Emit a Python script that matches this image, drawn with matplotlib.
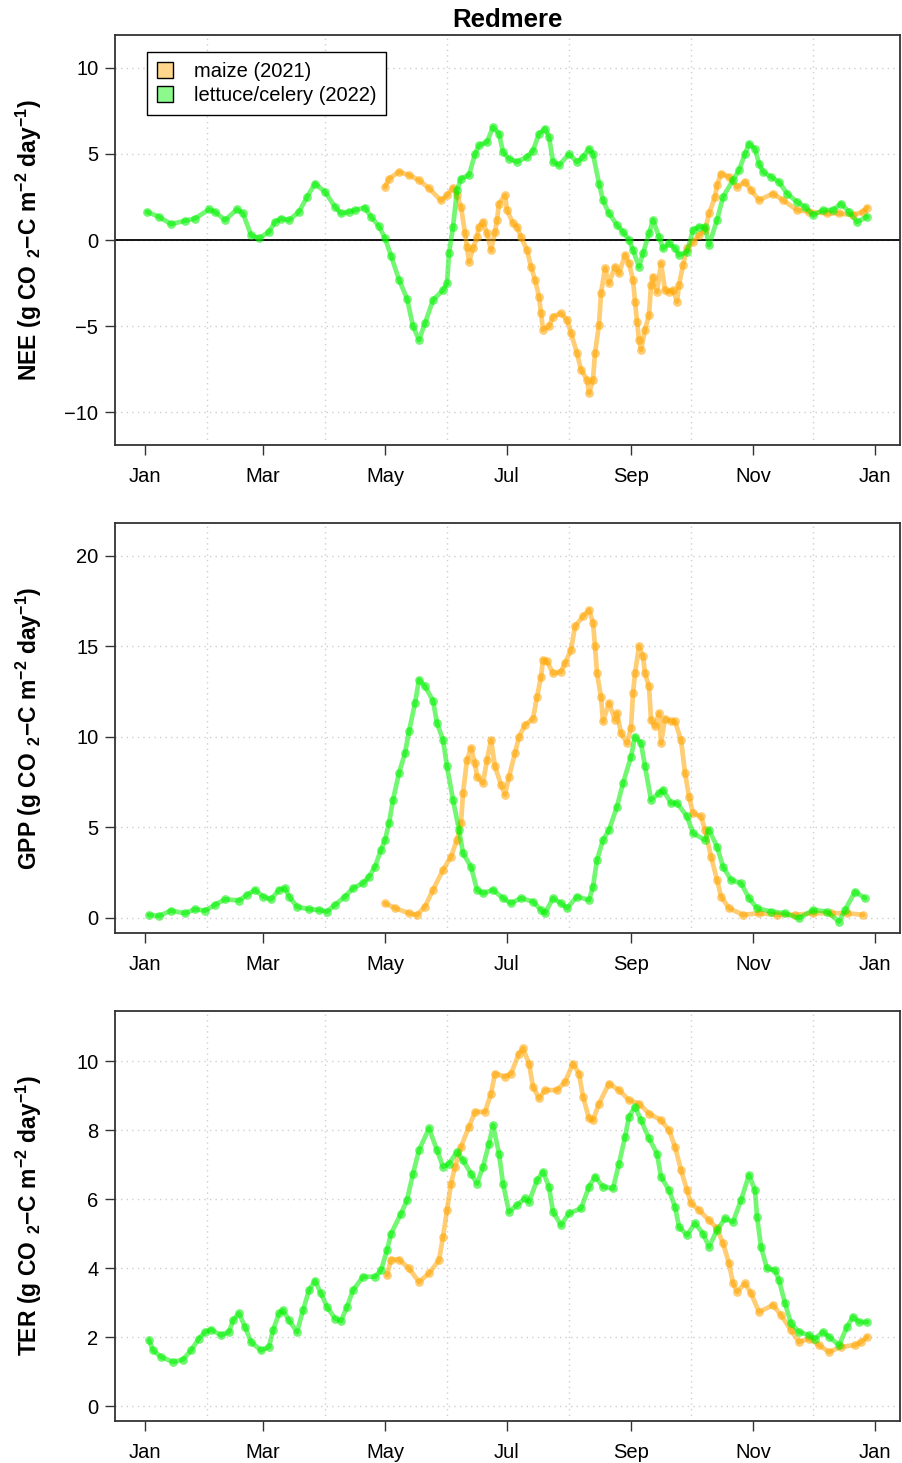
import numpy as np
import matplotlib.pyplot as plt
from matplotlib.patches import Patch

plt.rcParams["font.family"] = ["Liberation Sans", "DejaVu Sans"]
plt.rcParams["mathtext.fontset"] = "custom"
plt.rcParams["mathtext.rm"] = "Liberation Sans"
plt.rcParams["mathtext.bf"] = "Liberation Sans:bold"

# day of year (0 = 1 Jan) and daily flux values, g CO2-C m-2 day-1
nee_lettuce_day = [1, 7, 13, 20, 25, 32, 35, 40, 46, 49, 53, 57, 62, 65, 68, 72, 77, 81, 85, 90,
                   95, 98, 102, 105, 110, 113, 117, 120, 123, 127, 131, 134, 137, 140, 144, 149, 151, 152, 154, 156,
                   158, 162, 165, 167, 171, 174, 177, 179, 182, 186, 191, 194, 197, 200, 202, 204, 207, 212, 216, 219,
                   222, 224, 227, 229, 232, 236, 239, 242, 244, 247, 249, 252, 254, 257, 259, 262, 265, 267, 271, 274,
                   277, 280, 282, 286, 289, 294, 297, 300, 302, 305, 307, 309, 313, 317, 321, 326, 330, 334, 339, 344,
                   348, 352, 356, 361]
nee_lettuce = [1.64, 1.35, 0.93, 1.12, 1.25, 1.78, 1.64, 1.16, 1.78, 1.55, 0.29, 0.1, 0.48, 1.06, 1.25, 1.16, 1.64, 2.5, 3.28, 2.8,
               1.93, 1.55, 1.64, 1.74, 1.89, 1.35, 0.8, 0.1, -0.9, -2.3, -3.4, -5.0, -5.8, -4.83, -3.48, -2.9, -2.5, -0.77, 0.77, 2.9,
               3.57, 3.77, 5.0, 5.5, 5.7, 6.56, 6.18, 5.1, 4.73, 4.54, 4.83, 5.2, 6.18, 6.47, 5.99, 4.54, 4.35, 5.0, 4.54, 4.83,
               5.3, 5.0, 3.28, 2.3, 1.55, 0.87, 0.48, 0.0, -0.58, -1.55, -0.77, 0.39, 1.16, 0.19, -0.48, -0.19, -0.48, -0.87, -0.68, 0.58,
               0.77, 0.77, -0.29, 1.16, 2.5, 3.48, 4.06, 5.0, 5.6, 5.3, 4.44, 3.96, 3.67, 3.38, 2.7, 2.22, 1.93, 1.45, 1.74, 1.74,
               2.12, 1.64, 1.06, 1.35]

nee_maize_day = [120, 122, 127, 132, 137, 142, 148, 151, 154, 156, 158, 160, 161, 162, 164, 166, 167, 169, 171, 173,
                 175, 176, 177, 180, 181, 184, 186, 188, 191, 193, 195, 197, 198, 199, 202, 204, 208, 211, 213, 216,
                 218, 221, 222, 224, 225, 227, 228, 230, 232, 235, 237, 240, 242, 244, 245, 246, 247, 248, 250, 252,
                 253, 254, 256, 258, 260, 262, 264, 266, 267, 269, 271, 274, 277, 280, 282, 285, 286, 288, 292, 296,
                 300, 303, 307, 314, 319, 326, 332, 341, 347, 354, 359, 361]
nee_maize = [3.09, 3.57, 3.96, 3.77, 3.48, 3.0, 2.3, 2.6, 3.05, 2.6, 1.93, 0.39, -0.39, -1.26, -0.48, 0.19, 0.77, 1.06, 0.39, -0.58,
             0.48, 1.16, 2.12, 2.6, 1.74, 0.97, 0.77, 0.19, -0.58, -1.55, -2.3, -3.28, -4.25, -5.2, -5.0, -4.44, -4.25, -4.63, -5.4, -6.56,
             -7.53, -8.1, -8.88, -8.1, -6.56, -4.92, -3.09, -1.64, -2.5, -1.55, -1.93, -0.87, -1.35, -2.3, -3.57, -4.73, -5.8, -6.37, -5.2, -4.35,
             -2.6, -2.12, -3.0, -1.35, -2.9, -3.0, -2.9, -3.57, -2.6, -1.45, -0.48, -0.1, 0.29, 0.58, 1.55, 2.5, 3.19, 3.86, 3.67, 3.09,
             3.38, 2.9, 2.32, 2.7, 2.32, 1.74, 1.64, 1.55, 1.55, 1.45, 1.64, 1.89]

gpp_lettuce_day = [2, 7, 13, 20, 25, 30, 35, 40, 47, 51, 55, 59, 63, 67, 70, 72, 76, 82, 87, 91,
                   95, 100, 104, 109, 112, 115, 118, 120, 122, 124, 127, 130, 132, 135, 137, 140, 144, 146, 149, 151,
                   154, 157, 159, 163, 166, 169, 174, 179, 183, 188, 194, 198, 200, 204, 208, 211, 216, 222, 224, 226,
                   229, 232, 236, 239, 243, 245, 248, 250, 253, 257, 259, 263, 266, 271, 274, 280, 282, 286, 289, 293,
                   298, 302, 306, 313, 320, 327, 334, 341, 347, 350, 355, 360]
gpp_lettuce = [0.17, 0.11, 0.4, 0.26, 0.48, 0.4, 0.72, 1.03, 0.96, 1.27, 1.55, 1.18, 1.03, 1.55, 1.64, 1.18, 0.62, 0.48, 0.44, 0.35,
               0.72, 1.18, 1.64, 1.92, 2.28, 2.83, 3.76, 4.3, 5.23, 6.52, 8.0, 9.1, 10.3, 11.86, 13.15, 12.78, 12.0, 10.76, 9.83, 8.36,
               6.52, 4.86, 3.57, 2.83, 1.55, 1.36, 1.55, 1.09, 0.81, 1.09, 0.9, 0.44, 0.26, 1.09, 0.81, 0.54, 1.18, 0.99, 1.73, 3.2,
               4.3, 4.86, 6.15, 7.44, 8.9, 10.0, 9.65, 8.36, 6.52, 6.89, 7.07, 6.34, 6.34, 5.6, 4.68, 4.3, 4.86, 3.94, 2.83, 2.1,
               1.92, 1.09, 0.54, 0.35, 0.26, -0.02, 0.44, 0.35, -0.2, 0.44, 1.45, 1.09]

gpp_maize_day = [120, 125, 132, 136, 140, 144, 149, 153, 156, 158, 159, 161, 163, 165, 166, 169, 171, 173, 175, 178,
                 180, 182, 185, 187, 190, 194, 196, 198, 199, 201, 204, 208, 210, 213, 215, 219, 222, 224, 225, 226,
                 228, 229, 232, 235, 236, 238, 241, 243, 244, 245, 247, 249, 250, 252, 253, 255, 257, 258, 260, 263,
                 265, 268, 270, 272, 274, 278, 280, 283, 286, 288, 292, 299, 307, 316, 325, 334, 343, 351, 359]
gpp_maize = [0.81, 0.54, 0.26, 0.17, 0.63, 1.55, 2.65, 3.39, 4.3, 5.23, 6.89, 8.73, 9.37, 8.55, 7.8, 7.44, 8.73, 9.83, 8.36, 7.35,
             6.8, 7.8, 9.1, 10.0, 10.66, 11.0, 12.2, 13.3, 14.25, 14.16, 13.5, 13.6, 14.07, 14.8, 16.1, 16.65, 17.0, 16.3, 15.0, 13.5,
             12.2, 10.85, 11.86, 10.94, 11.3, 10.2, 9.65, 10.5, 12.4, 13.5, 15.0, 14.44, 13.5, 12.78, 10.94, 10.57, 11.3, 9.65, 11.0, 10.85,
             10.85, 9.83, 8.0, 6.7, 5.78, 5.6, 4.86, 3.39, 2.1, 1.18, 0.54, 0.17, 0.26, 0.17, 0.17, 0.26, 0.26, 0.26, 0.17]

ter_lettuce_day = [2, 4, 8, 14, 19, 23, 27, 30, 33, 38, 42, 44, 47, 50, 53, 58, 62, 64, 67, 69,
                   72, 76, 79, 82, 85, 88, 91, 95, 98, 101, 104, 109, 115, 118, 121, 123, 128, 131, 134, 137,
                   142, 146, 149, 152, 156, 159, 163, 166, 169, 172, 174, 177, 179, 182, 186, 190, 192, 196, 199, 202,
                   204, 208, 212, 218, 222, 225, 229, 234, 237, 240, 242, 245, 248, 252, 256, 258, 262, 265, 267, 271,
                   275, 279, 282, 286, 290, 294, 298, 302, 305, 306, 308, 311, 315, 317, 320, 323, 327, 332, 335, 339,
                   342, 347, 351, 354, 357, 361]
ter_lettuce = [1.91, 1.62, 1.43, 1.28, 1.35, 1.62, 1.96, 2.15, 2.22, 2.06, 2.15, 2.49, 2.69, 2.3, 1.86, 1.62, 1.72, 2.2, 2.69, 2.78,
               2.49, 2.15, 2.78, 3.36, 3.63, 3.27, 2.88, 2.54, 2.47, 2.88, 3.36, 3.75, 3.75, 3.94, 4.52, 5.0, 5.58, 5.97, 6.74, 7.42,
               8.05, 7.42, 6.94, 7.03, 7.37, 7.13, 6.74, 6.45, 6.94, 7.61, 8.14, 7.32, 6.45, 5.63, 5.83, 6.02, 5.92, 6.55, 6.79, 6.36,
               5.63, 5.25, 5.59, 5.73, 6.36, 6.65, 6.36, 6.31, 7.03, 7.8, 8.39, 8.68, 8.29, 7.76, 7.32, 6.65, 6.26, 5.78, 5.2, 4.96,
               5.3, 5.0, 4.62, 5.1, 5.44, 5.34, 5.97, 6.7, 6.26, 5.49, 4.62, 3.99, 3.94, 3.65, 2.98, 2.4, 2.15, 2.06, 1.96, 2.15,
               2.01, 1.77, 2.3, 2.59, 2.44, 2.44]

ter_maize_day = [121, 123, 127, 132, 137, 142, 147, 149, 151, 153, 155, 158, 162, 165, 170, 173, 175, 180, 183, 187,
                 189, 192, 194, 197, 200, 206, 210, 214, 217, 219, 222, 224, 227, 232, 237, 242, 247, 252, 258, 262,
                 265, 268, 271, 273, 277, 282, 286, 289, 292, 294, 296, 300, 303, 307, 314, 318, 323, 327, 332, 337,
                 342, 348, 355, 358, 361]
ter_maize = [3.8, 4.25, 4.25, 3.99, 3.6, 3.85, 4.23, 4.91, 5.68, 6.45, 6.94, 7.52, 8.1, 8.53, 8.53, 9.06, 9.64, 9.55, 9.64, 10.22,
             10.37, 9.93, 9.26, 8.92, 9.16, 9.16, 9.4, 9.93, 9.64, 8.97, 8.34, 8.29, 8.77, 9.35, 9.16, 8.87, 8.77, 8.48, 8.29, 8.0,
             7.52, 6.84, 6.26, 5.88, 5.68, 5.39, 5.15, 4.72, 4.14, 3.56, 3.31, 3.56, 3.27, 2.73, 2.93, 2.64, 2.2, 1.86, 1.96, 1.77,
             1.57, 1.72, 1.77, 1.86, 2.01]

month_starts = [0, 31, 59, 90, 120, 151, 181, 212, 243, 273, 304, 334, 365]
label_days = [0, 59, 120, 181, 243, 304, 365]
label_names = ["Jan", "Mar", "May", "Jul", "Sep", "Nov", "Jan"]

MAIZE = "#FFA500"
LETTUCE = "#00F200"
UNITS = r" (g CO$\ _{\mathbf{2}}$−C m$^{\mathbf{-2}}$ day$^{\mathbf{-1}}$)"


def draw_series(ax, days, vals, color):
    ax.plot(days, vals, color=color, lw=3.4, alpha=0.55,
            solid_capstyle="round", solid_joinstyle="round", zorder=3)
    ax.plot(days, vals, ls="none", marker="o", ms=6.3, mfc=color, mec="none",
            alpha=0.55, zorder=3)


fig = plt.figure(figsize=(9.02, 14.63), dpi=100)

panels = [
    ("NEE", 0.6958, (-11.9, 11.9), [-10, -5, 0, 5, 10],
     nee_maize_day, nee_maize, nee_lettuce_day, nee_lettuce),
    ("GPP", 0.3623, (-0.83, 21.8), [0, 5, 10, 15, 20],
     gpp_maize_day, gpp_maize, gpp_lettuce_day, gpp_lettuce),
    ("TER", 0.0287, (-0.43, 11.45), [0, 2, 4, 6, 8, 10],
     ter_maize_day, ter_maize, ter_lettuce_day, ter_lettuce),
]

axes = []
for name, bottom, ylim, yticks, mday, mval, lday, lval in panels:
    ax = fig.add_axes([0.1275, bottom, 0.8703, 0.2802])
    axes.append(ax)

    draw_series(ax, mday, mval, MAIZE)
    draw_series(ax, lday, lval, LETTUCE)

    ax.set_xlim(-15, 377.5)
    ax.set_ylim(*ylim)
    ax.set_xticks(label_days)
    ax.set_xticklabels(label_names)
    ax.set_xticks(month_starts, minor=True)
    ax.set_yticks(yticks)

    ax.grid(True, which="minor", axis="x", color="#cfcfcf", ls=(0, (1, 3)), lw=1)
    ax.grid(True, which="major", axis="y", color="#cfcfcf", ls=(0, (1, 3)), lw=1)
    ax.set_axisbelow(True)

    ax.tick_params(axis="both", which="major", direction="out", length=7, width=1,
                   color="#333333", labelsize=14.5)
    ax.tick_params(axis="x", which="major", pad=9)
    ax.tick_params(axis="y", which="major", pad=5)
    ax.tick_params(axis="x", which="minor", length=0)
    for sp in ax.spines.values():
        sp.set_color("#333333")
        sp.set_linewidth(1.3)

    ax.set_ylabel(name + UNITS, fontsize=16.5, fontweight="bold")
    ax.yaxis.set_label_coords(-0.09, 0.5)

# zero line for net exchange
axes[0].axhline(0, color="black", lw=1.3, zorder=2)

handles = [Patch(facecolor=(1.0, 0.647, 0.0, 0.45), edgecolor="black", lw=1),
           Patch(facecolor=(0.0, 0.95, 0.0, 0.45), edgecolor="black", lw=1)]
leg = axes[0].legend(handles, ["maize (2021)", "lettuce/celery (2022)"],
                     loc="upper left", bbox_to_anchor=(0.041, 0.959), borderaxespad=0,
                     fontsize=14.5, frameon=True, fancybox=False, framealpha=1,
                     edgecolor="black", handlelength=0.8, handleheight=0.8,
                     handletextpad=1.0, labelspacing=0.25, borderpad=0.5)
leg.get_frame().set_linewidth(1.0)

fig.text(0.563, 0.986, "Redmere", ha="center", va="center",
         fontsize=18.5, fontweight="bold")

fig.savefig("out.png", dpi=100)
